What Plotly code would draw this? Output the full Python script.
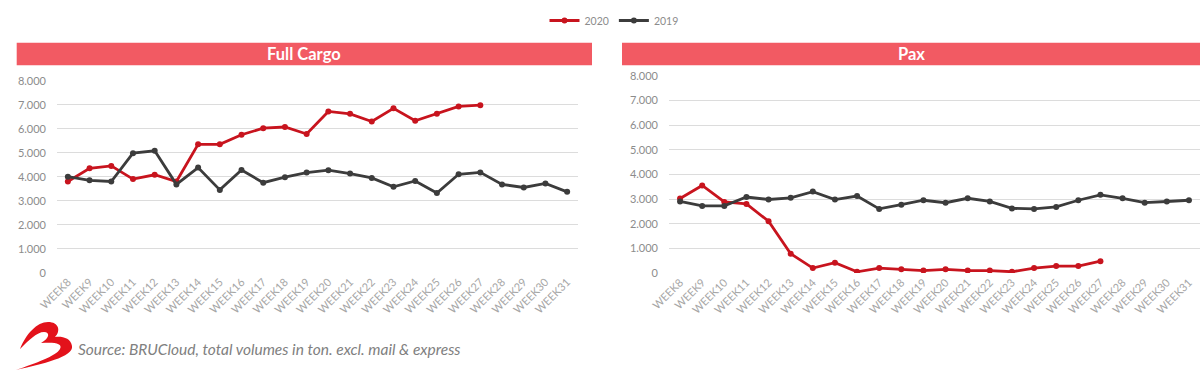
import plotly.graph_objects as go

weeks = [f"WEEK{w}" for w in range(8, 32)]
weeks_2020 = weeks[:20]

cargo_2020 = [3800, 4350, 4450, 3900, 4080, 3800, 5350, 5350, 5750, 6020,
              6070, 5780, 6720, 6620, 6300, 6850, 6330, 6620, 6930, 6980]
cargo_2019 = [4000, 3850, 3800, 4980, 5080, 3680, 4380, 3450, 4280, 3750,
              3980, 4170, 4270, 4130, 3950, 3580, 3820, 3320, 4100, 4180,
              3680, 3550, 3720, 3370]
pax_2020 = [3020, 3550, 2880, 2800, 2100, 780, 200, 420, 50, 200,
            150, 100, 150, 100, 100, 50, 200, 280, 280, 480]
pax_2019 = [2900, 2720, 2720, 3080, 2980, 3050, 3300, 2980, 3120, 2600,
            2770, 2950, 2850, 3030, 2900, 2620, 2600, 2680, 2950, 3170,
            3030, 2850, 2900, 2950]

panel_titles = ["Full Cargo", "Pax"]
y_ticks = [0, 1000, 2000, 3000, 4000, 5000, 6000, 7000, 8000]
source_text = "Source: BRUCloud, total volumes in ton. excl. mail & express"

RED = "#C8141E"
DARK = "#3C3C3C"
BAR = "#F25A63"
W, H = 1200, 372
FONT = "Lato, Open Sans, sans-serif"

def px(x):
    return x / W

def py(y):
    return (H - y) / H

fig = go.Figure()

fig.add_trace(go.Scatter(x=weeks_2020, y=cargo_2020, name="2020", xaxis="x", yaxis="y",
                         line=dict(color=RED, width=2.8), marker=dict(color=RED, size=6),
                         mode="lines+markers", legendrank=1))
fig.add_trace(go.Scatter(x=weeks, y=cargo_2019, name="2019", xaxis="x", yaxis="y",
                         line=dict(color=DARK, width=2.8), marker=dict(color=DARK, size=6),
                         mode="lines+markers", legendrank=2))
fig.add_trace(go.Scatter(x=weeks_2020, y=pax_2020, name="2020", xaxis="x2", yaxis="y2",
                         line=dict(color=RED, width=2.8), marker=dict(color=RED, size=6),
                         mode="lines+markers", showlegend=False))
fig.add_trace(go.Scatter(x=weeks, y=pax_2019, name="2019", xaxis="x2", yaxis="y2",
                         line=dict(color=DARK, width=2.8), marker=dict(color=DARK, size=6),
                         mode="lines+markers", showlegend=False))

tick_font = dict(family=FONT, size=11, color="#8C8C8C")
xtick_font = dict(family=FONT, size=11, color="#A6A6A6")

xcommon = dict(type="category", categoryorder="array", categoryarray=weeks,
               range=[-0.5, 23.5], showgrid=False, zeroline=False, showline=False,
               tickangle=-45, tickfont=xtick_font, ticks="", automargin=False,
               fixedrange=True)
ycommon = dict(range=[0, 8000], tickvals=y_ticks, tickformat=",d",
               showgrid=True, gridcolor="#DCDCDC", gridwidth=1, zeroline=False,
               showline=False, tickfont=tick_font, ticks="", ticklabelstandoff=10,
               automargin=False, fixedrange=True)

fig.update_layout(
    width=W, height=H,
    margin=dict(l=0, r=0, t=0, b=0),
    paper_bgcolor="white", plot_bgcolor="white",
    separators=",.",
    template="none",
    xaxis=dict(domain=[px(57), px(578)], anchor="y", **xcommon),
    yaxis=dict(domain=[py(272.7), py(80.7)], anchor="x", **ycommon),
    xaxis2=dict(domain=[px(669), 1.0], anchor="y2", **xcommon),
    yaxis2=dict(domain=[py(273), py(75.7)], anchor="x2", **ycommon),
    legend=dict(orientation="h", x=px(614), xanchor="center", y=py(6), yanchor="top",
                font=dict(family=FONT, size=10.5, color="#8C8C8C"),
                itemwidth=30, bgcolor="rgba(0,0,0,0)", tracegroupgap=0),
    showlegend=True,
)

# title bars
bars = [(16.7, 592), (622, 1200)]
for (x0, x1), title in zip(bars, panel_titles):
    fig.add_shape(type="rect", xref="paper", yref="paper",
                  x0=px(x0), x1=px(x1), y0=py(65.3), y1=py(42.7),
                  fillcolor=BAR, line=dict(width=0), layer="below")
    fig.add_annotation(xref="paper", yref="paper", x=px((x0 + x1) / 2), y=py(54),
                       text=f"<b>{title}</b>", showarrow=False, xanchor="center", yanchor="middle",
                       font=dict(family=FONT, size=16.5, color="white"))

# logo swoosh
pts = [
    ("M", [(16, 370)]),
    ("C", [(42, 364), (74, 357), (72, 346)]),
    ("C", [(71, 338), (62, 336), (55, 337)]),
    ("C", [(61, 331), (59, 322), (48, 322)]),
    ("C", [(37, 322), (26, 334), (20, 349)]),
    ("C", [(29, 340), (37, 332), (44, 332)]),
    ("C", [(50, 332), (50, 338), (41, 343)]),
    ("C", [(54, 342), (63, 343), (60, 349)]),
    ("C", [(56, 356), (36, 363), (16, 370)]),
]
path = ""
for cmd, ps in pts:
    path += cmd + " " + " ".join(f"{px(x):.5f},{py(y):.5f}" for x, y in ps) + " "
path += "Z"
fig.add_shape(type="path", xref="paper", yref="paper", path=path,
              fillcolor="#E3121B", line=dict(width=0))

fig.add_annotation(xref="paper", yref="paper", x=px(76), y=py(349),
                   text=f"<i>{source_text}</i>", showarrow=False, xanchor="left", yanchor="middle",
                   font=dict(family=FONT, size=15.5, color="#808080"))

fig.write_html("out.html", config={"displayModeBar": False},
               post_script="document.body.style.margin='0';document.body.style.overflow='hidden';")
